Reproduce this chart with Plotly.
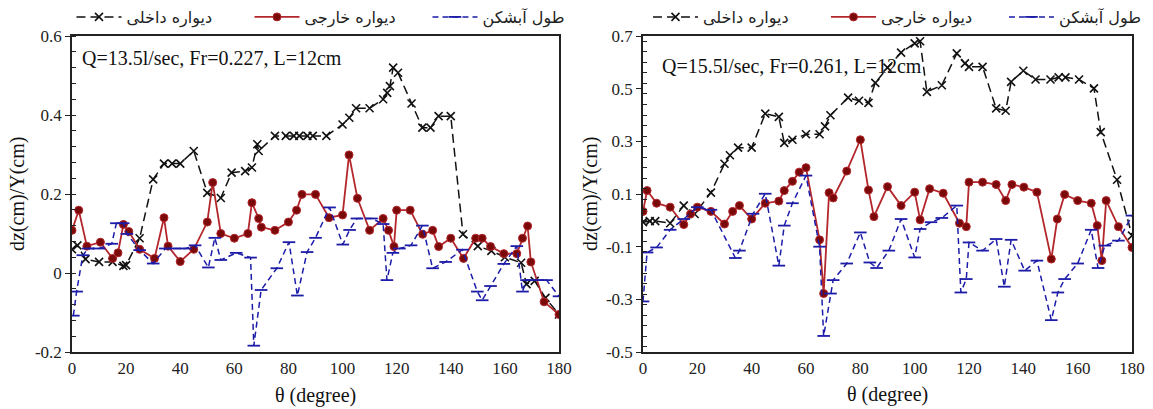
import plotly.graph_objects as go

# ---------------- data: left panel (Q=13.5 l/s) ----------------
L_inner_x = [0, 2, 5, 10, 15, 19, 20, 25, 30, 34, 37, 40, 45, 50, 55, 59, 64, 66.5, 68.5, 69,
             75, 79, 82, 84, 87, 89, 94, 100, 102.5, 105, 110, 115, 116.5, 117.5, 118.7, 120.5,
             125.5, 129.5, 132.5, 135.5, 140, 144.5, 150, 155, 160, 166, 168, 171, 175, 180]
L_inner_y = [0.06, 0.07, 0.035, 0.028, 0.028, 0.018, 0.02, 0.088, 0.237, 0.277, 0.277, 0.277,
             0.309, 0.203, 0.19, 0.254, 0.258, 0.267, 0.326, 0.309, 0.347, 0.347, 0.347, 0.347,
             0.347, 0.347, 0.347, 0.376, 0.393, 0.417, 0.417, 0.44, 0.456, 0.473, 0.52, 0.507,
             0.429, 0.368, 0.368, 0.397, 0.397, 0.098, 0.068, 0.056, 0.04, 0.026, -0.028, -0.02,
             -0.063, -0.105]

L_outer_x = [0, 2.5, 5.5, 10.5, 15, 17, 19, 21, 25, 30.5, 34, 35.5, 40, 45, 50, 52, 55, 60, 65,
             66.5, 69, 70, 75, 80, 83, 85, 90, 95, 100, 102.4, 105.5, 110, 115, 117, 119, 120,
             125, 129.6, 133.3, 135.5, 140, 144.7, 149.2, 151.6, 154.7, 159.6, 164.4, 166.5,
             168.4, 169.6, 174.5, 180]
L_outer_y = [0.108, 0.159, 0.068, 0.078, 0.037, 0.051, 0.123, 0.105, 0.06, 0.037, 0.14, 0.068,
             0.029, 0.06, 0.129, 0.229, 0.1, 0.088, 0.1, 0.178, 0.138, 0.116, 0.108, 0.129,
             0.159, 0.199, 0.199, 0.14, 0.147, 0.299, 0.189, 0.108, 0.138, 0.108, 0.067, 0.159,
             0.159, 0.098, 0.108, 0.067, 0.088, 0.037, 0.088, 0.088, 0.067, 0.049, 0.049, 0.088,
             0.119, 0.028, -0.073, -0.105]

L_dike_x = [0.5, 1.7, 4, 6, 10, 14.7, 16.4, 18.9, 20.3, 25, 30, 34.5, 38, 42, 45.5, 50.4, 52.8,
            55, 60.7, 66, 67.2, 69.9, 75.7, 80.2, 83.3, 86.9, 90, 95.2, 100.1, 102.6, 105.3,
            110.7, 115, 116.4, 118.6, 121, 125.3, 129.5, 133.3, 138.1, 144.3, 149.8, 151.6,
            154.7, 159.6, 164.4, 166.5, 168, 172.3, 175.4, 180]
L_dike_y = [-0.108, -0.047, 0.045, 0.062, 0.062, 0.074, 0.126, 0.126, 0.099, 0.058, 0.024,
            0.062, 0.062, 0.062, 0.07, 0.014, 0.089, 0.033, 0.051, 0.039, -0.184, -0.043, 0.012,
            0.078, -0.057, 0.053, 0.089, 0.166, 0.072, 0.109, 0.138, 0.138, 0.124, -0.018, 0.051,
            0.062, 0.07, 0.12, 0.012, 0.028, 0.059, -0.047, -0.069, -0.033, 0.023, 0.068, -0.047,
            -0.018, -0.018, -0.018, -0.059]

# ---------------- data: right panel (Q=15.5 l/s) ----------------
R_inner_x = [0, 2.5, 4.5, 10, 15, 19, 25, 30, 32, 35, 40, 45, 50, 52, 55, 60, 65, 67, 69, 75.5,
             79.5, 83, 85.5, 90, 95, 100, 102, 104.5, 110, 115.5, 118.5, 120, 125, 130, 133.5,
             135.5, 140, 144.5, 150, 153, 155.5, 160.5, 166, 168.5, 174.5, 180]
R_inner_y = [-0.007, -0.003, -0.003, -0.011, 0.056, 0.024, 0.105, 0.215, 0.247, 0.276, 0.276,
             0.405, 0.393, 0.294, 0.306, 0.327, 0.327, 0.357, 0.399, 0.466, 0.454, 0.446, 0.522,
             0.58, 0.637, 0.672, 0.68, 0.488, 0.513, 0.634, 0.596, 0.583, 0.583, 0.425, 0.416,
             0.526, 0.568, 0.535, 0.535, 0.543, 0.543, 0.535, 0.501, 0.335, 0.154, -0.058]

R_outer_x = [0, 1.5, 5, 10, 15, 17.5, 20, 25, 30, 33, 35.5, 40, 45, 50, 52, 55, 57.5, 60, 65,
             66.5, 68.5, 70, 75, 80, 83, 85, 90, 95, 100, 102, 105.5, 110.5, 116.5, 119, 120,
             125, 130, 133.5, 135.8, 140.2, 145, 150.3, 152.5, 155.2, 160, 165, 167.2, 168.9,
             170.5, 175, 180]
R_outer_y = [0.034, 0.113, 0.065, 0.05, -0.016, 0.024, 0.05, 0.034, -0.014, 0.034, 0.056, 0.005,
             0.065, 0.073, 0.113, 0.148, 0.183, 0.2, -0.074, -0.278, 0.105, 0.085, 0.187, 0.306,
             0.115, 0.014, 0.128, 0.056, 0.107, 0.002, 0.12, 0.103, -0.011, -0.024, 0.145, 0.145,
             0.136, 0.075, 0.136, 0.126, 0.107, -0.147, 0.005, 0.098, 0.075, 0.065, -0.02,
             -0.153, 0.075, -0.024, -0.103]

R_dike_x = [0, 1.5, 5, 10, 15, 20, 25, 34, 35.5, 40.5, 45, 50, 52, 55, 60, 65, 66.5, 69, 70, 75,
            80, 83.5, 86, 90.5, 95, 100, 102, 106, 110, 115.5, 117, 119, 120, 125, 130, 133,
            135.5, 140.5, 145, 150.3, 152.7, 155.2, 160, 165, 167.5, 170, 175, 180]
R_dike_y = [-0.308, -0.122, -0.103, -0.036, 0.005, 0.05, 0.04, -0.143, -0.115, 0.025, 0.101,
            -0.172, -0.02, 0.065, 0.17, -0.1, -0.439, -0.278, -0.227, -0.164, -0.046, -0.16,
            -0.181, -0.115, 0.005, -0.141, -0.033, -0.007, 0.009, 0.056, -0.274, -0.223, -0.084,
            -0.115, -0.071, -0.252, -0.074, -0.191, -0.153, -0.379, -0.274, -0.223, -0.164,
            -0.036, -0.181, -0.096, -0.077, 0.018]

names = ["دیواره داخلی", "دیواره خارجی", "طول آبشکن"]
x_ticks = [0, 20, 40, 60, 80, 100, 120, 140, 160, 180]
annot_left = "Q=13.5l/sec, Fr=0.227, L=12cm"
annot_right = "Q=15.5l/sec, Fr=0.261, L=12cm"

BLACK = "#111111"
RED_LINE = "#b3262b"
RED_MARK = "#7a0a0a"
BLUE = "#1c1ca8"
SERIF = "'Liberation Serif', 'Times New Roman', Times, serif"

fig = go.Figure()


def add_panel(xa, ya, leg, inner, outer, dike):
    fig.add_trace(go.Scatter(
        x=inner[0], y=inner[1], xaxis=xa, yaxis=ya, legend=leg, name=names[0],
        mode="lines+markers",
        line=dict(color=BLACK, width=1.5, dash="9px,5px"),
        marker=dict(symbol="x-thin", size=8, line=dict(color=BLACK, width=1.6), color=BLACK)))
    fig.add_trace(go.Scatter(
        x=outer[0], y=outer[1], xaxis=xa, yaxis=ya, legend=leg, name=names[1],
        mode="lines+markers",
        line=dict(color=RED_LINE, width=1.8),
        marker=dict(symbol="circle", size=8, color=RED_MARK, line=dict(color=RED_LINE, width=1))))
    fig.add_trace(go.Scatter(
        x=dike[0], y=dike[1], xaxis=xa, yaxis=ya, legend=leg, name=names[2],
        mode="lines+markers",
        line=dict(color=BLUE, width=1.5, dash="6px,4px"),
        marker=dict(symbol="line-ew", size=9, color=BLUE, line=dict(color=BLUE, width=1.8))))


add_panel("x", "y", "legend", (L_inner_x, L_inner_y), (L_outer_x, L_outer_y), (L_dike_x, L_dike_y))
add_panel("x2", "y2", "legend2", (R_inner_x, R_inner_y), (R_outer_x, R_outer_y), (R_dike_x, R_dike_y))

W, H = 1153, 409
ydom = [1 - 352 / H, 1 - 36 / H]

xcommon = dict(range=[0, 180], tickvals=x_ticks, ticks="", showgrid=False, zeroline=False,
               showline=True, linecolor="#222", linewidth=1.5, mirror=True,
               tickfont=dict(family=SERIF, size=17, color="#222"), automargin=False)
ycommon = dict(showgrid=False, zeroline=False, showline=True, linecolor="#222", linewidth=1.5,
               mirror=True, ticks="outside", ticklen=5, tickwidth=1.3, tickcolor="#222",
               tickfont=dict(family=SERIF, size=17, color="#222"), automargin=False,
               minor=dict(ticks="inside", ticklen=4, tickwidth=1, tickcolor="#222", dtick=0.04))

leg_common = dict(orientation="h", y=1.0, xanchor="left", yanchor="top",
                  entrywidth=118, entrywidthmode="pixels", itemwidth=45,
                  font=dict(family="DejaVu Sans", size=16, color="#222"),
                  bgcolor="rgba(0,0,0,0)")

fig.update_layout(
    width=W, height=H,
    font=dict(family=SERIF, size=17, color="#222"),
    margin=dict(l=0, r=0, t=0, b=0, autoexpand=False),
    paper_bgcolor="white", plot_bgcolor="white",
    xaxis=dict(domain=[72 / W, 559 / W], anchor="y", **xcommon),
    yaxis=dict(domain=ydom, anchor="x", range=[-0.2, 0.6], tickvals=[-0.2, 0, 0.2, 0.4, 0.6],
               ticktext=["-0.2", "0", "0.2", "0.4", "0.6"], **ycommon),
    xaxis2=dict(domain=[643 / W, 1132 / W], anchor="y2", **xcommon),
    yaxis2=dict(domain=ydom, anchor="x2", range=[-0.5, 0.7],
                tickvals=[-0.5, -0.3, -0.1, 0.1, 0.3, 0.5, 0.7],
                ticktext=["-0.5", "-0.3", "-0.1", "0.1", "0.3", "0.5", "0.7"], **ycommon),
    legend=dict(x=0.062, **leg_common),
    legend2=dict(x=0.562, **leg_common),
    showlegend=True,
)


def ann(text, x, y, size, angle=0, xanchor="center"):
    return dict(text=text, x=x / W, y=1 - y / H, xref="paper", yref="paper",
                xanchor=xanchor, yanchor="middle", textangle=angle, showarrow=False,
                font=dict(family=SERIF, size=size, color="#111"))


annots = [
    ann(annot_left, 80, 58, 20, xanchor="left"),
    ann(annot_right, 660, 66, 20, xanchor="left"),
    ann("dz(cm)/Y(cm)", 17, 194, 20, angle=-90),
    ann("dz(cm)/Y(cm)", 590, 194, 20, angle=-90),
    ann("θ (degree)", 315, 395, 20),
    ann("θ (degree)", 887, 394, 20),
]
fig.update_layout(annotations=annots)

fig.write_html("out.html")
